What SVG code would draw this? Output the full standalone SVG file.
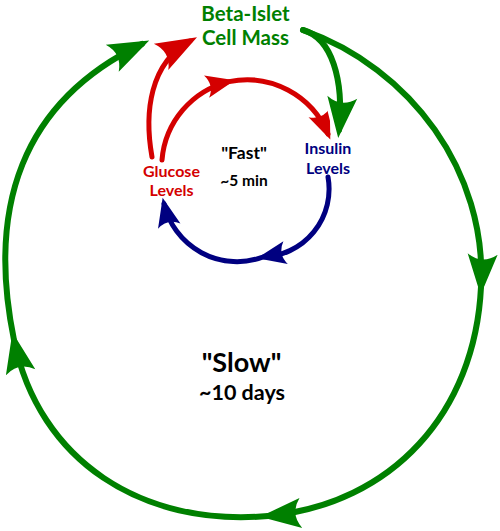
<svg xmlns="http://www.w3.org/2000/svg" width="500" height="531" viewBox="0 0 500 531">
<style>
  .ln { fill: none; stroke-linecap: round; }
  .g { stroke: #008000; stroke-width: 6; }
  .r { stroke: #d40000; stroke-width: 5; }
  .b { stroke: #000080; stroke-width: 5; }
  text { font-family: Lato, "Liberation Sans", sans-serif; font-weight: bold; text-anchor: middle; }
</style>
<defs>
  <marker id="mG" markerUnits="userSpaceOnUse" orient="auto" overflow="visible" markerWidth="1" markerHeight="1">
    <path d="M8,0 L-33,-15 Q-22,0 -33,15 Z" fill="#008000"/>
  </marker>
  <marker id="mGw" markerUnits="userSpaceOnUse" orient="auto" overflow="visible" markerWidth="1" markerHeight="1">
    <path d="M9,1 L-33,16" stroke="#ffffff" stroke-width="5" fill="none"/>
    <path d="M8,0 L-33,-15 Q-22,0 -33,15 Z" fill="#008000"/>
  </marker>
  <marker id="mR" markerUnits="userSpaceOnUse" orient="auto" overflow="visible" markerWidth="1" markerHeight="1">
    <path d="M8,0 L-33,-15 Q-22,0 -33,15 Z" fill="#d40000"/>
  </marker>
  <marker id="mRs" markerUnits="userSpaceOnUse" orient="auto" overflow="visible" markerWidth="1" markerHeight="1">
    <path d="M6,0 L-23,-11.5 Q-15,0 -23,11.5 Z" fill="#d40000"/>
  </marker>
  <marker id="mBs" markerUnits="userSpaceOnUse" orient="auto" overflow="visible" markerWidth="1" markerHeight="1">
    <path d="M6,0 L-23,-11.5 Q-15,0 -23,11.5 Z" fill="#000080"/>
  </marker>
</defs>

<g id="connectors">
  <path id="slow-loop" class="ln g" marker-mid="url(#mG)" marker-end="url(#mG)"
        d="M303,30 C411,68 487,172 481,287 C475,412 393,504 268,516 C143,527 39,462 14,340 C-13,208 21,102 142,44"/>
  <path id="glucose-to-beta" class="ln r" marker-end="url(#mR)" d="M152,157 C144,112 150,63 190,41"/>
  <path id="glucose-to-insulin" class="ln r" marker-mid="url(#mRs)" marker-end="url(#mRs)"
        d="M162,160 A88,88 0 0 1 229,81.6 A88,88 0 0 1 328,134"/>
  <path id="insulin-to-glucose" class="ln b" marker-mid="url(#mBs)" marker-end="url(#mBs)"
        d="M328,177 A68,68 0 0 1 263,257 A75,75 0 0 1 164,203.7"/>
  <path id="beta-to-insulin" class="ln g" marker-end="url(#mGw)" d="M303,30 C332,38 344,80 339,130"/>
</g>

<g id="beta-islet">
  <text x="245.5" y="20.5" font-size="20.5" fill="#008000">Beta-Islet</text>
  <text x="245.5" y="44.5" font-size="20.5" fill="#008000">Cell Mass</text>
</g>
<g id="glucose">
  <text x="171.5" y="177" font-size="16" fill="#d40000">Glucose</text>
  <text x="171.5" y="196" font-size="16" fill="#d40000">Levels</text>
</g>
<g id="insulin">
  <text x="328" y="154" font-size="16" fill="#000080">Insulin</text>
  <text x="328" y="173.5" font-size="16" fill="#000080">Levels</text>
</g>
<g id="fast-label">
  <text x="244" y="159" font-size="17.5" fill="#000000">"Fast"</text>
  <text x="244" y="186" font-size="15.5" fill="#000000">~5 min</text>
</g>
<g id="slow-label">
  <text x="241.5" y="372" font-size="27" fill="#000000">"Slow"</text>
  <text x="242" y="400" font-size="21.5" fill="#000000">~10 days</text>
</g>
</svg>
